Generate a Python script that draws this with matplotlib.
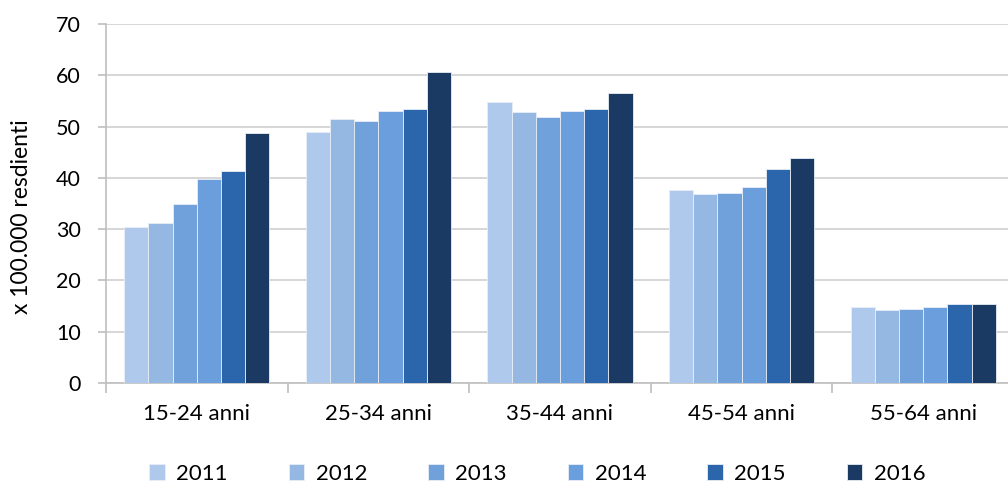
import numpy as np
import matplotlib.pyplot as plt

categories = ['15-24 anni', '25-34 anni', '35-44 anni', '45-54 anni', '55-64 anni']
years = ['2011', '2012', '2013', '2014', '2015', '2016']
values = {
    '2011': [30.5, 48.9, 54.7, 37.6, 14.9],
    '2012': [31.2, 51.5, 52.8, 36.8, 14.2],
    '2013': [35.0, 51.1, 51.8, 37.0, 14.4],
    '2014': [39.8, 53.1, 53.0, 38.3, 14.9],
    '2015': [41.3, 53.5, 53.5, 41.8, 15.5],
    '2016': [48.7, 60.7, 56.6, 43.8, 15.5],
}
colors = ['#AFC9EC', '#95B8E3', '#71A1DA', '#6A9EDC', '#2B66AD', '#1A3A64']

plt.rcParams['font.family'] = ['Lato', 'DejaVu Sans']

fig = plt.figure(figsize=(10.08, 4.88), dpi=100)
ax = fig.add_axes([106/1008, 1-383/488, (1014-106)/1008, (383-24)/488])

x = np.arange(len(categories))
w = 0.8 / len(years)
for i, y in enumerate(years):
    ax.bar(x - 0.4 + w*(i+0.5), values[y], width=w, color=colors[i],
           edgecolor='#E8EEF6', linewidth=0.6, label=y, zorder=3)

ax.set_xlim(-0.5, len(categories)-0.5)
ax.set_ylim(0, 70)
ax.set_yticks(range(0, 71, 10))
ax.yaxis.grid(True, color='#D0D0D0', linewidth=1.2, zorder=0)
ax.set_axisbelow(True)

ax.set_xticks(np.arange(-0.5, len(categories)), labels=[''] * (len(categories)+1))
ax.set_xticks(x, labels=categories, minor=True)
ax.tick_params(axis='x', which='minor', length=0, pad=15, labelsize=16)
ax.tick_params(axis='x', which='major', length=7, color='#BFBFBF', width=1.2)
ax.tick_params(axis='y', length=6, color='#BFBFBF', width=1.2, labelsize=15.5, pad=12)

for s in ['top', 'right']:
    ax.spines[s].set_visible(False)
for s in ['left', 'bottom']:
    ax.spines[s].set_color('#BFBFBF')
    ax.spines[s].set_linewidth(1.2)

ax.set_ylabel('x 100.000 resdienti', fontsize=16.5)
ax.yaxis.set_label_coords(-0.082, 0.464)

fig.legend(loc='lower center', bbox_to_anchor=(0.533, -0.032), ncol=6, frameon=False,
           fontsize=16, handlelength=0.7, handleheight=0.7, handletextpad=0.5,
           columnspacing=2.76)

fig.savefig('out.png', dpi=100)
